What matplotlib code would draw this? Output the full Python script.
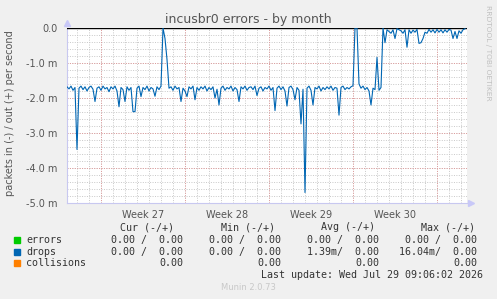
import numpy as np
import matplotlib
matplotlib.use("Agg")
import matplotlib.pyplot as plt
from matplotlib.ticker import FuncFormatter

# drops, inbound side (plotted negative), in milli-packets/s, one value every 4 hours
drops_in = [
    -1.68, -1.74, -1.66, -1.78, -1.70, -3.47, -1.72, -1.66, -1.76, -1.68,
    -1.80, -1.70, -1.66, -1.75, -2.10, -1.72, -1.68, -1.78, -1.66, -1.74,
    -1.70, -1.82, -1.68, -1.74, -1.66, -1.80, -2.25, -1.70, -1.76, -2.10,
    -1.68, -1.78, -1.70, -2.39, -2.39, -1.72, -1.66, -1.96, -1.70, -1.76,
    -1.66, -1.80, -1.70, -1.74, -1.95, -1.68, -1.76, -1.66, 0.00, -0.30,
    -0.90, -1.72, -1.68, -1.78, -1.66, -1.74, -1.70, -2.10, -1.72, -1.80,
    -1.96, -1.68, -1.74, -1.66, -2.05, -1.70, -1.78, -1.68, -1.74, -1.66,
    -1.80, -1.70, -1.76, -1.68, -2.00, -1.75, -2.20, -1.72, -1.66, -1.78,
    -1.70, -1.74, -1.66, -1.80, -1.70, -1.76, -2.10, -1.68, -1.74, -1.66,
    -1.78, -1.70, -1.68, -1.76, -1.66, -1.93, -1.72, -1.68, -1.80, -1.70,
    -1.74, -1.66, -1.78, -1.70, -2.36, -1.72, -1.66, -1.76, -1.68, -1.80,
    -2.23, -1.70, -1.66, -1.76, -2.05, -1.70, -1.78, -2.74, -1.75, -4.70,
    -1.72, -1.66, -1.78, -2.20, -1.70, -1.74, -1.66, -1.80, -1.70, -1.76,
    -1.68, -1.74, -1.66, -1.78, -1.70, -1.72, -2.49, -1.70, -1.66, -1.76,
    -1.70, -1.74, -1.68, -1.65, 0.00, 0.00, -1.60, -1.72, -1.66, -1.76,
    -1.70, -1.80, -2.20, -1.72, -1.76, -0.84, -1.78, -1.70, 0.00, -0.42,
    -0.05, -0.10, -0.15, -0.05, -0.30, -0.02, -0.05, -0.08, -0.15, -0.05,
    -0.55, -0.05, -0.15, -0.06, -0.12, -0.04, -0.44, -0.42, -0.30, -0.12,
    -0.15, -0.04, -0.12, -0.05, -0.14, -0.04, -0.12, -0.05, -0.14, -0.05,
    -0.12, -0.04, -0.06, -0.30, -0.10, -0.30, -0.08, -0.15, -0.05, -0.02,
]
days = np.arange(len(drops_in)) / 6.0

week_names = ["Week 27", "Week 28", "Week 29", "Week 30"]
week_starts = [2.83, 9.83, 16.83, 23.83, 30.83]

legend_names = ["errors", "drops", "collisions"]
legend_colors = ["#00cc00", "#0066b3", "#ff8000"]
cur_vals = ["0.00 /  0.00", "0.00 /  0.00", "0.00"]
min_vals = ["0.00 /  0.00", "0.00 /  0.00", "0.00"]
avg_vals = ["0.00 /  0.00", "1.39m/  0.00", "0.00"]
max_vals = ["0.00 /  0.00", "16.04m/  0.00", "0.00"]

W, H = 497, 299
fig = plt.figure(figsize=(W / 100, H / 100), dpi=100, facecolor="#f0f0f0")
ax = fig.add_axes([67 / W, 1 - 203 / H, 400 / W, 175 / H])
ax.set_facecolor("white")
ax.set_xlim(0, 400 / 12)
ax.set_ylim(-5, 0)

# grid
dots = (0, (1, 1.5))
for d in np.arange(0.83, 33.4, 1.0):
    ax.axvline(d, color="#c8c8c8", lw=0.7, ls=dots, zorder=1)
for d in week_starts:
    ax.axvline(d, color="#e09a9a", lw=0.7, ls=dots, zorder=1.5)
for v in np.arange(-5, 0.01, 0.2):
    ax.axhline(v, color="#c8c8c8", lw=0.7, ls=dots, zorder=1)
for v in range(-5, 1):
    ax.axhline(v, color="#e09a9a", lw=0.7, ls=dots, zorder=1.5)

ax.axhline(0, color="black", lw=1.0, zorder=3)
ax.plot(days, drops_in, color="#0066b3", lw=0.8, zorder=4)

for s in ["top", "right"]:
    ax.spines[s].set_visible(False)
for s in ["left", "bottom"]:
    ax.spines[s].set_color("#c8c8f0")
    ax.spines[s].set_linewidth(0.8)
ax.plot([0], [1.03], marker="^", ms=4, color="#c8c8f8", transform=ax.transAxes, clip_on=False)
ax.plot([1.01], [0], marker=">", ms=4, color="#c8c8f8", transform=ax.transAxes, clip_on=False)

ax.set_yticks(range(-5, 1))
ax.yaxis.set_major_formatter(FuncFormatter(lambda v, p: "0.0" if v == 0 else f"{v:.1f} m"))
ax.set_xticks([w + 3.5 for w in week_starts[:4]])
ax.set_xticklabels(week_names)
ax.tick_params(length=0, labelsize=7, colors="#555555", pad=7)
ax.tick_params(axis="x", pad=5)

fig.text(10 / W, 1 - 113 / H, "packets in (-) / out (+) per second", rotation=90,
         ha="center", va="center", fontsize=7, color="#555555")
fig.text(248 / W, 1 - 19 / H, "incusbr0 errors - by month", ha="center", va="center",
         fontsize=9, color="#555555")
fig.text(488 / W, 1 - 5 / H, "RRDTOOL / TOBI OETIKER", rotation=270, ha="center", va="top",
         fontsize=5.4, color="#c0c0c0")


def put(x, y, s, ha="left", color="#333333"):
    fig.text(x / W, 1 - y / H, s, ha=ha, va="center", fontsize=7.2,
             family="DejaVu Sans Mono", color=color)


col_right = [183, 281, 379, 477]
head_right = [174, 275, 375, 475]
for x, h in zip(head_right, ["Cur (-/+)", "Min (-/+)", "Avg (-/+)", "Max (-/+)"]):
    put(x, 227, h, ha="right")
for i, name in enumerate(legend_names):
    y = 240 + i * 11.7
    fig.patches.append(plt.Rectangle((14 / W, 1 - (y + 3) / H), 6 / W, 6 / H,
                                     transform=fig.transFigure, color=legend_colors[i]))
    put(26, y, name)
    for x, vals in zip(col_right, [cur_vals, min_vals, avg_vals, max_vals]):
        put(x, y, vals[i], ha="right")
put(483, 275.5, "Last update: Wed Jul 29 09:06:02 2026", ha="right")
fig.text(248 / W, 1 - 288 / H, "Munin 2.0.73", ha="center", va="center", fontsize=6,
         color="#c8c8c8")

fig.savefig("out.png", dpi=100, facecolor=fig.get_facecolor())
